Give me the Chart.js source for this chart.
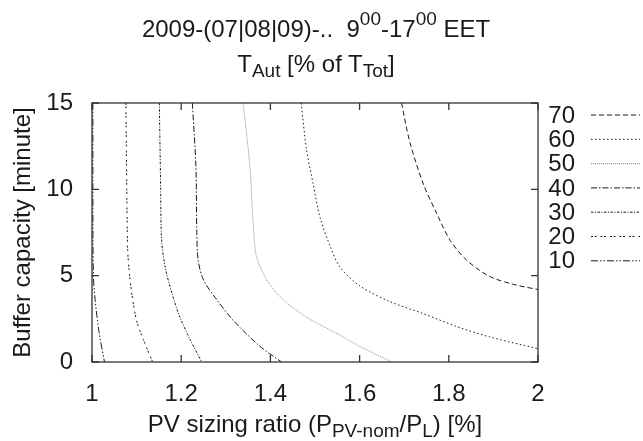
<!DOCTYPE html>
<html>
<head>
<meta charset="utf-8">
<script src="https://cdn.jsdelivr.net/npm/chart.js@4"></script>
<style>
  body { margin: 0; background: #fff; }
  #wrap { position: relative; width: 643px; height: 441px; }
  .txt { position: absolute; left: 0; font-family: "Liberation Sans", Arial, sans-serif;
         font-size: 24px; line-height: 28px; color: #1a1a1a; text-align: center; white-space: pre; }
  .txt sup { font-size: 19px; position: relative; top: -12px; vertical-align: baseline; }
  .txt sub { font-size: 19px; position: relative; top: 5px; vertical-align: baseline; }
</style>
</head>
<body>
<div id="wrap">
  <canvas id="chart" width="643" height="441"></canvas>
  <div class="txt" style="top:15px;width:632px">2009-(07|08|09)-..  9<sup>00</sup>-17<sup>00</sup> EET</div>
  <div class="txt" style="top:50px;width:632px">T<sub>Aut</sub> [% of T<sub>Tot</sub>]</div>
  <div class="txt" style="top:410px;width:630px">PV sizing ratio (P<sub>PV-nom</sub>/P<sub>L</sub>) [%]</div>
</div>
<script>
// contour levels of T_Aut [% of T_Tot], traced from top (15 min) to bottom (0 min)
const levels = ['70', '60', '50', '40', '30', '20', '10'];

const c70x = [1.694, 1.713, 1.743, 1.773, 1.803, 1.840, 1.892, 1.952, 2.0];
const c70y = [15, 12.7, 10.3, 8.6, 7.05, 5.9, 4.95, 4.45, 4.2];

const c60x = [1.469, 1.481, 1.496, 1.511, 1.534, 1.556, 1.601, 1.668, 1.743, 1.818, 1.892, 2.0];
const c60y = [15, 12.3, 10.3, 8.4, 6.7, 5.5, 4.4, 3.5, 2.8, 2.05, 1.45, 0.77];

const c50x = [1.339, 1.354, 1.362, 1.369, 1.392, 1.429, 1.481, 1.556, 1.601, 1.672];
const c50y = [15, 11.3, 7.8, 6.1, 4.75, 3.6, 2.6, 1.55, 0.9, 0];

const c40x = [1.225, 1.233, 1.235, 1.238, 1.250, 1.280, 1.317, 1.377, 1.425];
const c40y = [15, 11.3, 7.5, 5.9, 4.75, 3.6, 2.4, 0.9, 0];

const c30x = [1.151, 1.154, 1.156, 1.164, 1.179, 1.197, 1.220, 1.246];
const c30y = [15, 10, 7.1, 5.5, 4.0, 2.6, 1.3, 0];

const c20x = [1.076, 1.078, 1.080, 1.084, 1.089, 1.100, 1.115, 1.136];
const c20y = [15, 10, 6.5, 5.1, 4.0, 2.4, 1.3, 0];

const c10x = [1.002, 1.002, 1.003, 1.007, 1.016, 1.028];
const c10y = [15, 10, 5.1, 3.6, 1.7, 0];

const xTicks = [1, 1.2, 1.4, 1.6, 1.8, 2];
const yTicks = [0, 5, 10, 15];

const curves = [[c70x, c70y], [c60x, c60y], [c50x, c50y], [c40x, c40y], [c30x, c30y], [c20x, c20y], [c10x, c10y]];

// gnuplot-like line types
const dashes = [[5, 3], [1.5, 2.5], [1, 1], [6, 2, 1.5, 2], [2.5, 1.5, 1, 1.5], [2, 1.5, 2, 4], [7, 2, 1.5, 2, 1.5, 2]];
const colors = ['#1a1a1a', '#1a1a1a', '#8a8a8a', '#1a1a1a', '#1a1a1a', '#1a1a1a', '#1a1a1a'];

const FONT = '"Liberation Sans", Arial, sans-serif';
const TEXT = '#1a1a1a';

const datasets = curves.map((c, i) => ({
    label: levels[i],
    data: c[0].map((x, k) => ({ x: x, y: c[1][k] })),
    showLine: true,
    borderColor: colors[i],
    borderWidth: 1,
    borderDash: dashes[i],
    pointRadius: 0,
    tension: 0.3,
    fill: false
}));

// border box, inward ticks on all four sides, and the key on the right
const framePlugin = {
    id: 'frame',
    afterDraw(chart) {
        const { ctx, chartArea: a, scales } = chart;
        ctx.save();
        ctx.strokeStyle = '#333';
        ctx.lineWidth = 1.3;
        ctx.setLineDash([]);
        ctx.strokeRect(a.left, a.top, a.right - a.left, a.bottom - a.top);
        const tl = 7;
        ctx.beginPath();
        xTicks.forEach(v => {
            const px = scales.x.getPixelForValue(v);
            ctx.moveTo(px, a.bottom); ctx.lineTo(px, a.bottom - tl);
            ctx.moveTo(px, a.top); ctx.lineTo(px, a.top + tl);
        });
        yTicks.forEach(v => {
            const py = scales.y.getPixelForValue(v);
            ctx.moveTo(a.left, py); ctx.lineTo(a.left + tl, py);
            ctx.moveTo(a.right, py); ctx.lineTo(a.right - tl, py);
        });
        ctx.stroke();

        // key
        ctx.font = '24px ' + FONT;
        ctx.textAlign = 'right';
        ctx.textBaseline = 'middle';
        chart.data.datasets.forEach((ds, i) => {
            const y = 116 + i * 24.3;
            ctx.fillStyle = TEXT;
            ctx.fillText(ds.label, a.right + 37, y);
            ctx.strokeStyle = ds.borderColor;
            ctx.lineWidth = 1;
            ctx.setLineDash(ds.borderDash);
            ctx.beginPath();
            ctx.moveTo(a.right + 53, y - 1);
            ctx.lineTo(a.right + 102, y - 1);
            ctx.stroke();
        });
        ctx.restore();
    }
};

new Chart(document.getElementById('chart'), {
    type: 'scatter',
    data: { datasets: datasets },
    options: {
        responsive: false,
        animation: false,
        devicePixelRatio: 1,
        layout: { padding: { left: 0, top: 103, right: 105, bottom: 0 } },
        plugins: {
            legend: { display: false },
            tooltip: { enabled: false },
            title: { display: false }
        },
        scales: {
            x: {
                type: 'linear',
                min: 1,
                max: 2,
                afterBuildTicks: s => { s.ticks = xTicks.map(v => ({ value: v })); },
                afterFit: s => { s.height = 79; },
                grid: { display: false, drawTicks: false },
                border: { display: false },
                ticks: {
                    padding: 18,
                    color: TEXT,
                    font: { family: FONT, size: 24 },
                    maxRotation: 0,
                    callback: v => String(+v.toFixed(1))
                }
            },
            y: {
                type: 'linear',
                min: 0,
                max: 15,
                afterBuildTicks: s => { s.ticks = yTicks.map(v => ({ value: v })); },
                afterFit: s => { s.width = 92; },
                grid: { display: false, drawTicks: false },
                border: { display: false },
                ticks: {
                    padding: 19,
                    color: TEXT,
                    font: { family: FONT, size: 24 },
                    callback: v => String(v)
                },
                title: {
                    display: true,
                    text: 'Buffer capacity [minute]',
                    color: TEXT,
                    font: { family: FONT, size: 24 },
                    padding: { top: 9, bottom: 0 }
                }
            }
        }
    },
    plugins: [framePlugin]
});
</script>
</body>
</html>
